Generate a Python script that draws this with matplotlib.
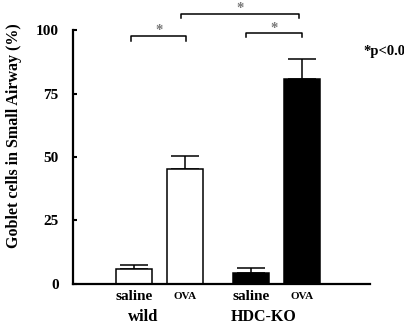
import matplotlib
matplotlib.use('Agg')
import matplotlib.pyplot as plt
import numpy as np

groups = ['wild', 'HDC-KO']
treatments = ['saline', 'OVA', 'saline', 'OVA']
means = [5.7, 45.2, 4.2, 80.8]
errs = [1.7, 5.3, 1.9, 8.0]
colors = ['white', 'white', 'black', 'black']
yticks = [0, 25, 50, 75, 100]
pos = [1.0, 2.0, 3.3, 4.3]

plt.rcParams['font.family'] = 'Liberation Serif'
plt.rcParams['font.weight'] = 'bold'

fig = plt.figure(figsize=(4.04, 3.24), dpi=100)
ax = fig.add_axes([0.18, 0.124, 0.736, 0.783])

ax.bar(pos, means, width=0.71, color=colors, edgecolor='black', linewidth=1.1, zorder=2)
ax.errorbar(pos, means, yerr=[np.zeros(4), errs], fmt='none', ecolor='black',
            elinewidth=1.1, capsize=10, capthick=1.1, zorder=1)

ax.set_xlim(-0.2, 5.63)
ax.set_ylim(0, 100)
ax.set_yticks(yticks)
ax.tick_params(axis='y', direction='in', length=3, width=1.5, labelsize=11, pad=10)
ax.set_xticks([])
for s in ['top', 'right']:
    ax.spines[s].set_visible(False)
for s in ['left', 'bottom']:
    ax.spines[s].set_linewidth(1.6)
ax.set_ylabel('Goblet cells in Small Airway (%)', fontsize=11.5, fontweight='bold')
ax.yaxis.set_label_coords(-0.17, 0.586)

for p, t in zip(pos, treatments):
    fs = 11 if t == 'saline' else 8
    ax.text(p, -5, t, ha='center', va='center', fontsize=fs, fontweight='bold')
ax.text(1.19, -13, groups[0], ha='center', va='center', fontsize=12, fontweight='bold')
ax.text(3.55, -13, groups[1], ha='center', va='center', fontsize=11.5, fontweight='bold')

def bracket(x1, x2, y, h, sy):
    ax.plot([x1, x1, x2, x2], [y - h, y, y, y - h], color='black', lw=1.1, clip_on=False)
    ax.text((x1 + x2) / 2, sy, '*', ha='center', va='center', color='#777777',
            fontsize=10.5, clip_on=False)

bracket(0.94, 2.03, 97.5, 1.6, 99.8)
bracket(1.93, 4.24, 106.5, 1.8, 108.6)
bracket(3.2, 4.3, 98.8, 1.6, 100.6)

ax.text(5.5, 91.5, '*p<0.05', ha='left', va='center', fontsize=10.5, fontweight='bold',
        clip_on=False)

fig.savefig('out.png', dpi=100)
